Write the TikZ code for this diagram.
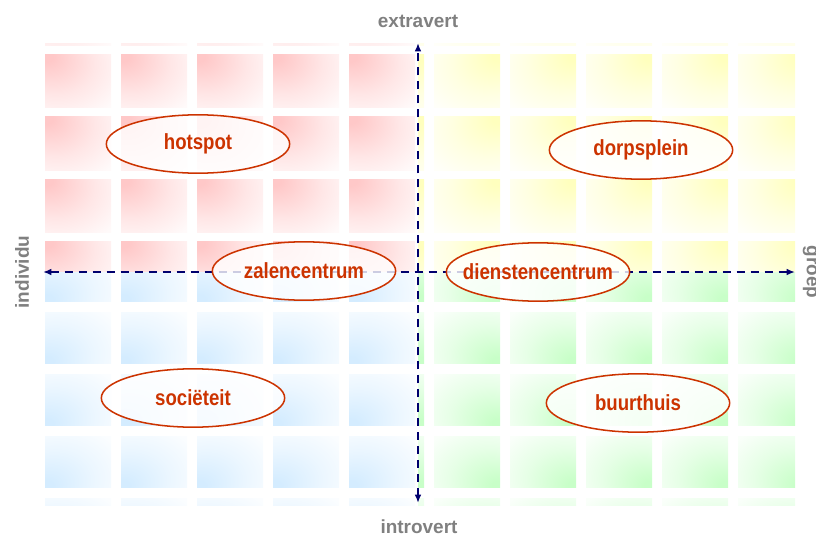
\documentclass[tikz,border=0pt]{standalone}
\usepackage{fontspec}
\setmainfont{Liberation Sans}
\newfontfamily\placefont[FakeStretch=0.85]{Liberation Sans}
\usepackage{tikz}
\usetikzlibrary{shapes, arrows.meta, positioning, shapes.geometric}
\usepackage{xcolor}
\definecolor{labelred}{RGB}{204,51,0}
\definecolor{axisblue}{RGB}{0,0,110}
\definecolor{axisgray}{RGB}{128,128,128}
\definecolor{tilered}{RGB}{255,200,200}
\definecolor{tileyellow}{RGB}{255,255,190}
\definecolor{tileblue}{RGB}{212,236,255}
\definecolor{tilegreen}{RGB}{200,255,200}

% one glow per quadrant, brightest towards the outer corner
\pgfdeclareradialshading{glowred}{\pgfpoint{-25bp}{25bp}}{color(0bp)=(tilered); color(5bp)=(tilered); color(30bp)=(tilered!45!white); color(50bp)=(tilered!10!white); color(100bp)=(white)}
\pgfdeclareradialshading{glowyellow}{\pgfpoint{25bp}{25bp}}{color(0bp)=(tileyellow); color(5bp)=(tileyellow); color(30bp)=(tileyellow!45!white); color(50bp)=(tileyellow!10!white); color(100bp)=(white)}
\pgfdeclareradialshading{glowblue}{\pgfpoint{-25bp}{-25bp}}{color(0bp)=(tileblue); color(5bp)=(tileblue); color(30bp)=(tileblue!45!white); color(50bp)=(tileblue!10!white); color(100bp)=(white)}
\pgfdeclareradialshading{glowgreen}{\pgfpoint{25bp}{-25bp}}{color(0bp)=(tilegreen); color(5bp)=(tilegreen); color(30bp)=(tilegreen!45!white); color(50bp)=(tilegreen!10!white); color(100bp)=(white)}

\begin{document}
\begin{tikzpicture}[x=0.03cm, y=-0.03cm,
    place/.style={ellipse, draw=labelred, line width=1.3pt, fill=white, fill opacity=0.8, text opacity=1,
        text=labelred, font=\placefont\bfseries\fontsize{18.7}{20}\selectfont,
        minimum width=5.5cm, minimum height=1.75cm, inner xsep=-0.8cm, inner ysep=0pt},
    axislabel/.style={text=axisgray, font=\bfseries\fontsize{16.2}{18}\selectfont, inner sep=0pt},
    axisline/.style={axisblue, line width=1.7pt, dash pattern=on 0.24cm off 0.18cm,
        {Latex[length=0.25cm,width=0.2cm]}-{Latex[length=0.25cm,width=0.2cm]}}]
    \useasboundingbox (0,0) rectangle (816,537);

    % tiled background
    \begin{scope}
        \clip (45,44) rectangle (795,505);
        \begin{scope}
            \clip (0,0) rectangle (418,272);
            \foreach \i in {0,...,4}
                \foreach \j in {-1,...,3}
                    \path[shading=glowred] ({45+76*\i},{55+62*\j}) rectangle ++(66,53);
        \end{scope}
        \begin{scope}
            \clip (418,0) rectangle (816,272);
            \foreach \i in {-1,...,4}
                \foreach \j in {-1,...,3}
                    \path[shading=glowyellow] ({434+76*\i},{55+62*\j}) rectangle ++(66,53);
        \end{scope}
        \begin{scope}
            \clip (0,272) rectangle (418,537);
            \foreach \i in {0,...,4}
                \foreach \j in {0,...,4}
                    \path[shading=glowblue] ({45+76*\i},{250+62*\j}) rectangle ++(66,51);
        \end{scope}
        \begin{scope}
            \clip (418,272) rectangle (816,537);
            \foreach \i in {-1,...,4}
                \foreach \j in {0,...,4}
                    \path[shading=glowgreen] ({434+76*\i},{250+62*\j}) rectangle ++(66,51);
        \end{scope}
    \end{scope}

    % axes
    \coordinate (north) at (418,43);
    \coordinate (south) at (418,503);
    \coordinate (west) at (43,272);
    \coordinate (east) at (795,272);
    \draw[axisline] (west) -- (east);
    \draw[axisline] (south) -- (north);

    \node[axislabel] (extravert) at (418,21) {extravert};
    \node[axislabel] (introvert) at (419,527) {introvert};
    \node[axislabel, rotate=90] (individu) at (22,272) {individu};
    \node[axislabel, rotate=-90] (groep) at (810,272) {groep};

    % places
    \node[place] (hotspot) at (198,144) {hotspot};
    \node[place] (dorpsplein) at (641,150) {dorpsplein};
    \node[place] (zalencentrum) at (304,271) {zalencentrum};
    \node[place] (dienstencentrum) at (538,272) {dienstencentrum};
    \node[place] (societeit) at (193,398) {sociëteit};
    \node[place] (buurthuis) at (638,403) {buurthuis};
\end{tikzpicture}
\end{document}
